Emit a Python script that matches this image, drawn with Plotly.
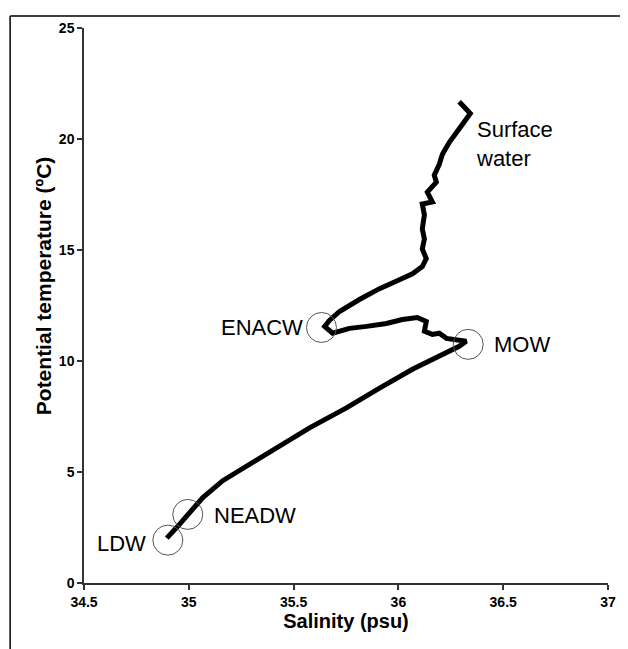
import plotly.graph_objects as go

# Temperature-salinity profile (surface -> depth)
salinity = [36.290, 36.343, 36.305, 36.267, 36.243, 36.210, 36.195, 36.171, 36.181, 36.138,
            36.162, 36.114, 36.124, 36.114, 36.124, 36.114, 36.133, 36.114, 36.067, 36.005,
            35.910, 35.814, 35.719, 35.671, 35.648, 35.686, 35.767, 35.848, 35.943, 36.019,
            36.090, 36.133, 36.124, 36.162, 36.195, 36.229, 36.276, 36.324, 36.290, 36.210,
            36.067, 35.910, 35.752, 35.576, 35.419, 35.290, 35.162, 35.067, 35.005, 34.943,
            34.895]
temperature = [21.68, 21.15, 20.65, 20.21, 19.85, 19.31, 18.86, 18.37, 18.06, 17.61,
               17.16, 17.07, 16.58, 15.95, 15.50, 15.05, 14.61, 14.25, 13.93, 13.66,
               13.26, 12.77, 12.23, 11.83, 11.56, 11.25, 11.47, 11.56, 11.69, 11.87,
               11.96, 11.78, 11.34, 11.20, 11.25, 11.02, 10.98, 10.89, 10.66, 10.30,
               9.63, 8.78, 7.89, 6.99, 6.09, 5.38, 4.61, 3.85, 3.14, 2.51,
               2.02]

# Water masses (circle centres)
mass_names = ["LDW", "NEADW", "ENACW", "MOW"]
mass_sal = [34.90, 34.995, 35.633, 36.333]
mass_temp = [1.93, 3.09, 11.51, 10.75]

x_ticks = [34.5, 35, 35.5, 36, 36.5, 37]
x_tick_text = ["34.5", "35", "35.5", "36", "36.5", "37"]
y_ticks = [0, 5, 10, 15, 20, 25]
y_tick_text = ["0", "5", "10", "15", "20", "25"]

fig = go.Figure()
fig.add_trace(go.Scatter(x=salinity, y=temperature, mode="lines",
                         line=dict(color="black", width=5), hoverinfo="skip"))
fig.add_trace(go.Scatter(x=mass_sal, y=mass_temp, mode="markers",
                         marker=dict(symbol="circle-open", size=30,
                                     line=dict(color="#555555", width=1), color="#555555"),
                         text=mass_names, hoverinfo="text"))

lab_font = dict(family="Liberation Sans, Arial", size=22, color="black")
fig.add_annotation(x=35.552, y=11.51, text="ENACW", xanchor="right", yanchor="middle",
                   showarrow=False, font=lab_font)
fig.add_annotation(x=36.448, y=10.75, text="MOW", xanchor="left", yanchor="middle",
                   showarrow=False, font=lab_font)
fig.add_annotation(x=35.110, y=3.05, text="NEADW", xanchor="left", yanchor="middle",
                   showarrow=False, font=lab_font)
fig.add_annotation(x=34.805, y=1.79, text="LDW", xanchor="right", yanchor="middle",
                   showarrow=False, font=lab_font)
fig.add_annotation(x=36.362, y=19.76, text="Surface<br>water", xanchor="left", yanchor="middle",
                   align="left", showarrow=False, font=lab_font)

# y-axis title as rotated annotation
fig.add_annotation(xref="paper", yref="paper", x=-0.078, y=0.535, textangle=-90,
                   text="<b>Potential temperature (ºC)</b>", showarrow=False,
                   xanchor="center", yanchor="middle",
                   font=dict(family="Liberation Sans, Arial", size=21, color="black"))

# outer frame lines (top and left)
fig.add_shape(type="line", xref="paper", yref="paper", x0=-0.141, x1=1.05, y0=1.0215, y1=1.0215,
              line=dict(color="black", width=1.5))
fig.add_shape(type="line", xref="paper", yref="paper", x0=-0.141, x1=-0.141, y0=1.0215, y1=-0.13,
              line=dict(color="black", width=1.5))

tick_font = dict(family="Liberation Sans, Arial", size=14, color="black")
fig.update_xaxes(range=[34.5, 37], tickvals=x_ticks,
                 ticktext=["<b>%s</b>" % t for t in x_tick_text],
                 showgrid=False, zeroline=False, showline=True, linecolor="#333333", linewidth=1.5,
                 ticks="outside", ticklen=5, tickcolor="#333333", tickwidth=1.5,
                 tickfont=tick_font,
                 title=dict(text="<b>Salinity (psu)</b>", standoff=4,
                            font=dict(family="Liberation Sans, Arial", size=20, color="black")))
fig.update_yaxes(range=[0, 25], tickvals=y_ticks,
                 ticktext=["<b>%s</b>" % t for t in y_tick_text],
                 showgrid=False, zeroline=False, showline=True, linecolor="#333333", linewidth=1.5,
                 ticks="outside", ticklen=5, tickcolor="#333333", tickwidth=1.5,
                 tickfont=tick_font)

fig.update_layout(width=620, height=641, showlegend=False,
                  paper_bgcolor="white", plot_bgcolor="white",
                  margin=dict(l=76, r=19, t=17, b=66))

fig.write_html("out.html")
